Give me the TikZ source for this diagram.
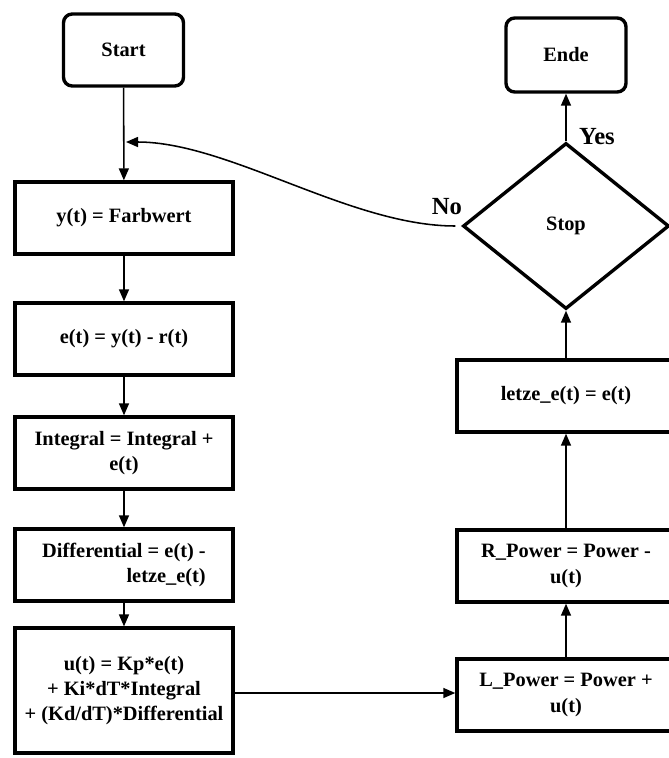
\documentclass[tikz,border=0pt]{standalone}
\usepackage{fontspec}
\setmainfont{Liberation Serif}
\usepackage{tikz}
\usetikzlibrary{shapes.geometric, arrows.meta, calc}

\begin{document}
\begin{tikzpicture}[x=0.025cm, y=-0.025cm,
    font=\bfseries\fontsize{14.5}{17.8}\selectfont,
    endbox/.style={draw, line width=2.4pt, rounded corners=0.22cm, minimum width=3.0cm, minimum height=1.8cm},
    procbox/.style={draw, line width=2.4pt, minimum width=5.45cm, minimum height=1.8cm, align=center},
    decision/.style={draw, diamond, line width=2.4pt, minimum width=5.15cm, minimum height=4.15cm, aspect=1.24, inner sep=0pt},
    flow/.style={-{Triangle[length=3mm, width=2.5mm]}, line width=1.1pt},
    answer/.style={font=\bfseries\fontsize{17.5}{19}\selectfont}]

    % Frame of the page
    \clip (0,0) rectangle (669,758);

    % Left column
    \node[endbox] (start) at (123.5,50) {Start};
    \node[procbox] (farbe) at (124,218) {y(t) = Farbwert};
    \node[procbox] (fehler) at (124,339) {e(t) = y(t) - r(t)};
    \node[procbox] (integ) at (124,453) {Integral = Integral +\\e(t)};
    \node[procbox, align=right] (diff) at (124,565) {Differential = e(t) -\\letze\_e(t)};
    \node[procbox, minimum height=3.12cm] (stell) at (124,690.5) {u(t) = Kp*e(t)\\+ Ki*dT*Integral\\+ (Kd/dT)*Differential};

    % Right column
    \node[procbox] (lpow) at (566,695) {L\_Power = Power +\\u(t)};
    \node[procbox] (rpow) at (566,566) {R\_Power = Power -\\u(t)};
    \node[procbox] (letzte) at (566,396) {letze\_e(t) = e(t)};
    \node[decision] (stop) at (566,226) {Stop};
    \node[endbox, minimum height=1.85cm] (ende) at (566,55) {Ende};

    % Main flow
    \draw[flow] (start) -- (farbe);
    \draw[flow] (farbe) -- (fehler);
    \draw[flow] (fehler) -- (integ);
    \draw[flow] (integ) -- (diff);
    \draw[flow] (diff) -- (stell);
    \draw[flow] (stell.east |- 0,693) -- (lpow.west |- 0,693);
    \draw[flow] (lpow) -- (rpow);
    \draw[flow] (rpow) -- (letzte);
    \draw[flow] (letzte) -- (stop);
    \draw[flow] (stop) -- (ende);

    % Loop back
    \coordinate (merge) at (126,142);
    \draw[flow] ($(stop.west)+(-6,0)$) .. controls (350,226) and (229,142) .. (merge);

    % Labels
    \node[answer] (ja) at (597,137) {Yes};
    \node[answer] (nein) at (447,207) {No};

\end{tikzpicture}
\end{document}
